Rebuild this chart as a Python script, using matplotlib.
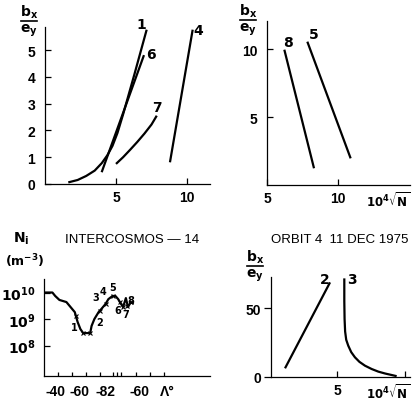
import matplotlib
matplotlib.use('Agg')
import matplotlib.pyplot as plt
import numpy as np

W, H = 414, 402   # output size in pixels
lw_curve = 1.6
lw_axis = 0.9
fs = 10           # tick label size
tick_font = {'family': ['Liberation Sans', 'DejaVu Sans'], 'weight': 'bold', 'size': fs}
title_font = ['Liberation Sans', 'DejaVu Sans']

# top-left panel: b_x/e_y against 10^4 sqrt(N), curves 1, 6, 7, 4
c1_x = [1.64, 2.3, 2.9, 3.5, 4.0, 4.4, 4.75, 5.1, 5.5, 6.3, 7.16]
c1_y = [0.06, 0.15, 0.3, 0.5, 0.78, 1.08, 1.42, 1.9, 2.6, 4.1, 5.76]
c6_x = [3.99, 6.97]
c6_y = [0.44, 4.81]
c7_x = [5.0, 5.5, 6.0, 6.5, 7.0, 7.5, 7.87]
c7_y = [0.75, 1.0, 1.28, 1.57, 1.88, 2.22, 2.55]
c4_x = [8.8, 10.4]
c4_y = [0.81, 5.76]

# top-right panel: curves 8 and 5
c8_x = [6.22, 8.31]
c8_y = [9.95, 1.23]
c5_x = [7.84, 10.89]
c5_y = [10.54, 1.96]

# bottom-left panel: Ni along the orbit (track position, log10 Ni)
track = [0.5, 6, 8, 11, 16, 19, 22, 24, 26, 28, 33, 34, 36, 39, 41, 44, 46, 49, 51, 53,
         55, 56.5, 58.5, 60, 62, 64]
log_ni = [10.0, 10.0, 9.87, 9.72, 9.64, 9.45, 9.26, 8.89, 8.62, 8.47, 8.47, 8.74, 9.0, 9.26,
          9.38, 9.57, 9.75, 9.87, 9.87, 9.75, 9.57, 9.45, 9.79, 9.45, 9.64, 9.57]
mark_track = [23, 28, 33, 40, 44, 49, 54, 56.5, 59.5, 62]
mark_log = [9.1, 8.47, 8.47, 9.32, 9.57, 9.87, 9.66, 9.45, 9.5, 9.64]
pt_names = ['1', '2', '3', '4', '5', '6', '7', '8']
pt_track = [21.4, 40, 37.1, 41.9, 48.8, 52.4, 58.4, 62.1]
pt_log = [8.69, 8.88, 9.82, 10.07, 10.2, 9.35, 9.19, 9.73]
lat_ticks = [10, 20, 30, 40, 49.5, 52.5, 55, 66, 76, 86]
lat_label_pos = [7.9, 25.7, 43.6, 67.9, 88]
lat_labels = ['-40', '-60', '-82', '-60', 'Λ°']

# bottom-right panel: orbit 4 curves 2 and 3
c2_x = [1.18, 4.49]
c2_y = [6.3, 68.6]
c3_x = [5.54, 5.54, 5.56, 5.6, 5.68, 5.83, 6.05, 6.32, 6.65, 7.06, 7.55, 8.04, 8.55, 9.02, 9.39]
c3_y = [71.5, 55, 42, 33, 27, 22.7, 18, 14.3, 11, 8.2, 5.8, 3.9, 2.5, 1.45, 0.6]

fig = plt.figure(figsize=(W / 100, H / 100), dpi=100)

def add_ax(x0, x1, y_top, y_bottom):
    return fig.add_axes([x0 / W, 1 - y_bottom / H, (x1 - x0) / W, (y_bottom - y_top) / H])

def style(ax):
    for s in ['top', 'right']:
        ax.spines[s].set_visible(False)
    for s in ['left', 'bottom']:
        ax.spines[s].set_linewidth(lw_axis)
    ax.tick_params(width=lw_axis, length=4, direction='in', pad=4)
    for lab in ax.get_xticklabels() + ax.get_yticklabels():
        lab.set_fontproperties(matplotlib.font_manager.FontProperties(**tick_font))

def bx_ey(x, y):
    # fraction label b_x / e_y in figure pixels
    fig.text(x / W, 1 - y / H, r'$\mathbf{b_x}$', ha='center', va='bottom', fontsize=10)
    fig.text(x / W, 1 - (y + 2) / H, r'$\mathbf{e_y}$', ha='center', va='top', fontsize=10)
    fig.add_artist(plt.Line2D([(x - 8) / W, (x + 8) / W], [1 - (y + 0.5) / H] * 2, color='black', lw=1.2))

def sqrtn(ax, x, pad=4):
    ax.annotate(r'$\mathbf{10^4}\sqrt{\mathbf{N}}$', xy=(x, 0), xycoords=('data', 'axes fraction'),
                xytext=(0, -pad), textcoords='offset points', ha='center', va='top', fontsize=8.5)

line_kw = dict(color='black', lw=lw_curve, clip_on=False, solid_capstyle='butt')
lab_kw = dict(fontsize=10, fontweight='bold', ha='center', va='center')

# ---- panel 1
ax1 = add_ax(45, 210, 28, 185)
for xs, ys in [(c1_x, c1_y), (c6_x, c6_y), (c7_x, c7_y), (c4_x, c4_y)]:
    ax1.plot(xs, ys, **line_kw)
ax1.set_xlim(0, 11.62)
ax1.set_ylim(0, 5.86)
ax1.set_xticks([5, 10])
ax1.set_yticks([0, 1, 2, 3, 4, 5])
style(ax1)
ax1.tick_params(axis='y', pad=7)
for t, x, y in [('1', 6.76, 5.97), ('6', 7.46, 4.85), ('7', 7.86, 2.86), ('4', 10.8, 5.76)]:
    ax1.text(x, y, t, **lab_kw)
bx_ey(29, 21)

# ---- panel 2
ax2 = add_ax(267, 410, 22, 186)
ax2.plot(c8_x, c8_y, **line_kw)
ax2.plot(c5_x, c5_y, **line_kw)
ax2.set_xlim(5, 15.07)
ax2.set_ylim(0, 12.06)
ax2.set_xticks([5, 10])
ax2.set_yticks([5, 10])
style(ax2)
ax2.tick_params(axis='y', pad=7)
ax2.text(6.5, 10.5, '8', **lab_kw)
ax2.text(8.31, 11.1, '5', **lab_kw)
sqrtn(ax2, 13.5)
bx_ey(248, 20)

# ---- panel 3
ax3 = add_ax(44, 210, 280, 377)
ax3.semilogy(track, 10 ** np.array(log_ni), **line_kw)
ax3.plot(mark_track, 10 ** np.array(mark_log), 'x', color='black', ms=3.5, mew=0.8, clip_on=False)
for t, x, y in zip(pt_names, pt_track, pt_log):
    ax3.text(x, 10 ** y, t, fontsize=7, fontweight='bold', ha='center', va='center')
ax3.set_xlim(0, 118.6)
ax3.set_ylim(10 ** 6.85, 10 ** 10.51)
ax3.set_yticks([1e8, 1e9, 1e10])
ax3.set_yticklabels([r'$\mathbf{10^{8}}$', r'$\mathbf{10^{9}}$', r'$\mathbf{10^{10}}$'])
ax3.yaxis.set_minor_locator(matplotlib.ticker.NullLocator())
ax3.set_xticks(lat_label_pos)
ax3.set_xticklabels(lat_labels)
ax3.set_xticks(lat_ticks, minor=True)
style(ax3)
ax3.tick_params(axis='x', which='major', length=0, pad=6)
ax3.tick_params(axis='x', which='minor', length=3, width=lw_axis, direction='in')
ax3.tick_params(axis='y', pad=6)
fig.text(21 / W, 1 - 239 / H, r'$\mathbf{N_i}$', ha='center', va='center', fontsize=10)
fig.text(25 / W, 1 - 261 / H, r'$\mathbf{(m^{-3})}$', ha='center', va='center', fontsize=9)
fig.text(132 / W, 1 - 240 / H, 'INTERCOSMOS — 14', ha='center', va='center', fontsize=9.5,
         family=title_font)

# ---- panel 4
ax4 = add_ax(271, 410, 278, 378)
ax4.plot(c2_x, c2_y, **line_kw)
ax4.plot(c3_x, c3_y, **line_kw)
ax4.set_xlim(0.15, 10.37)
ax4.set_ylim(0, 72.5)
ax4.set_xticks([5, 10])
ax4.set_xticklabels(['5', ''])
ax4.set_yticks([0, 50])
style(ax4)
ax4.tick_params(axis='y', direction='out', length=5, pad=2)
ax4.text(4.12, 71, '2', **lab_kw)
ax4.text(6.08, 71, '3', **lab_kw)
sqrtn(ax4, 8.75)
bx_ey(255, 266)
fig.text(340 / W, 1 - 240 / H, 'ORBIT 4  11 DEC 1975', ha='center', va='center', fontsize=9.5,
         family=title_font)

fig.savefig('out.png', dpi=100)
